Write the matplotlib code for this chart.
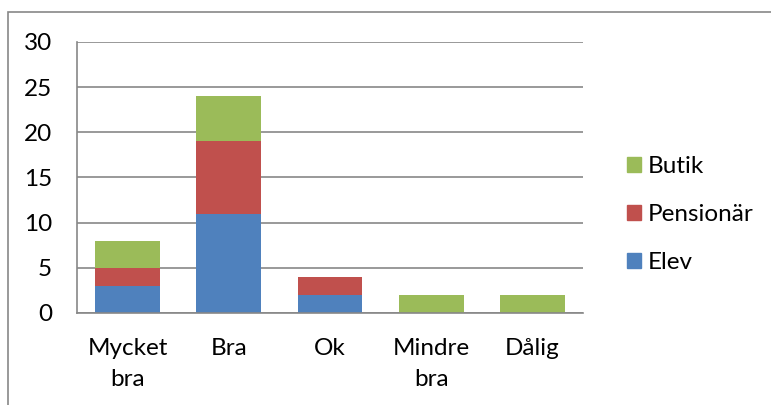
import matplotlib.pyplot as plt
from matplotlib.patches import Rectangle, Patch
import numpy as np

plt.rcParams['font.family'] = ['Lato', 'DejaVu Sans']

categories = ["Mycket\nbra", "Bra", "Ok", "Mindre\nbra", "Dålig"]
elev = [3, 11, 2, 0, 0]
pensionar = [2, 8, 2, 0, 0]
butik = [3, 5, 0, 2, 2]

blue = "#4F81BD"
red = "#C0504D"
green = "#9BBB59"
grid_gray = "#878787"
fs = 17.5

fig = plt.figure(figsize=(7.71, 4.05), dpi=100)
ax = fig.add_axes([0.0999, 0.2272, 0.6563, 0.6691])

x = np.arange(len(categories))
w = 0.64
b1 = np.array(elev)
b2 = b1 + np.array(pensionar)
ax.bar(x, elev, w, color=blue, zorder=3)
ax.bar(x, pensionar, w, bottom=b1, color=red, zorder=3)
ax.bar(x, butik, w, bottom=b2, color=green, zorder=3)

ax.set_xlim(-0.5, 4.5)
ax.set_ylim(0, 30)
ax.set_yticks(range(0, 31, 5))
ax.set_xticks(x)
ax.set_xticklabels(categories, fontsize=fs, linespacing=1.6)
ax.tick_params(axis='y', length=0, pad=18, labelsize=fs)
ax.tick_params(axis='x', length=0, pad=18)

ax.grid(axis='y', color=grid_gray, linewidth=1.2, zorder=0)
for side in ['top', 'right']:
    ax.spines[side].set_visible(False)
for side in ['left', 'bottom']:
    ax.spines[side].set_color(grid_gray)
    ax.spines[side].set_linewidth(1.2)
    ax.spines[side].set_zorder(4)

handles = [Patch(color=green, label="Butik"),
           Patch(color=red, label="Pensionär"),
           Patch(color=blue, label="Elev")]
fig.legend(handles=handles, loc='center left', bbox_to_anchor=(0.813, 0.47),
           frameon=False, fontsize=fs, handlelength=0.58, handleheight=0.58,
           handletextpad=0.28, labelspacing=1.1, borderpad=0, borderaxespad=0)

# outer chart frame
fig.patches.append(Rectangle((8 / 771, -0.1), 1.1, (405 - 12) / 405 + 0.1,
                             transform=fig.transFigure, fill=False,
                             edgecolor=grid_gray, linewidth=1.2))

fig.savefig("out.png", dpi=100)
